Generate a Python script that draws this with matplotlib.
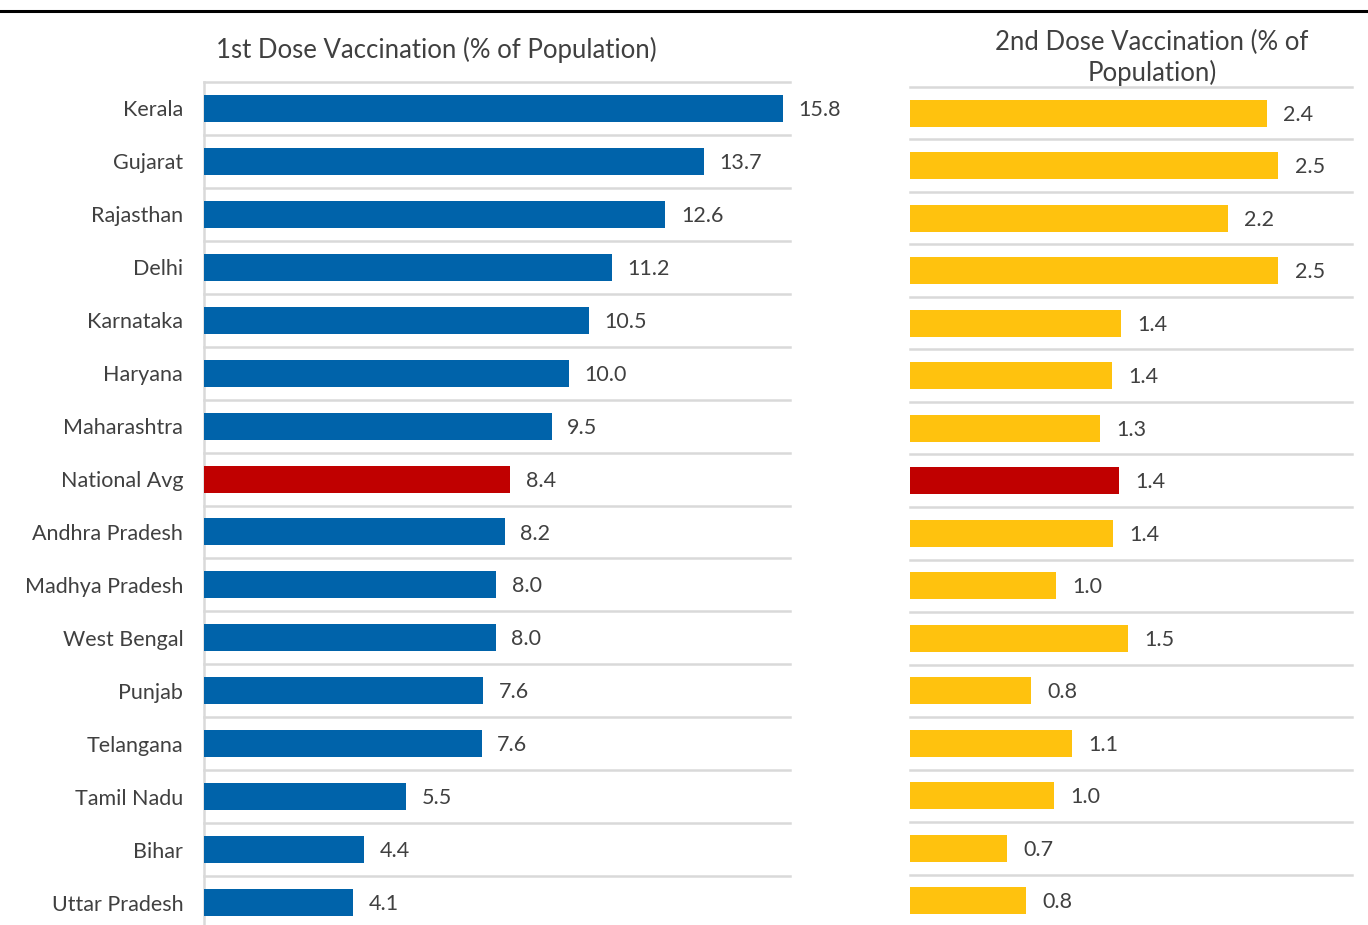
import numpy as np
import matplotlib
matplotlib.use("Agg")
from matplotlib import pyplot as plt

plt.rcParams['font.family'] = ['Lato', 'DejaVu Sans']

states = ['Kerala', 'Gujarat', 'Rajasthan', 'Delhi', 'Karnataka', 'Haryana',
          'Maharashtra', 'National Avg', 'Andhra Pradesh', 'Madhya Pradesh',
          'West Bengal', 'Punjab', 'Telangana', 'Tamil Nadu', 'Bihar',
          'Uttar Pradesh']
dose1 = [15.8, 13.66, 12.6, 11.15, 10.5, 9.97, 9.5, 8.36, 8.22, 7.98,
         7.96, 7.62, 7.58, 5.52, 4.38, 4.08]
dose2 = [2.42, 2.5, 2.16, 2.5, 1.43, 1.37, 1.29, 1.42, 1.38, 0.99,
         1.48, 0.82, 1.1, 0.98, 0.66, 0.79]

BLUE = '#0063AA'
YELLOW = '#FFC20E'
RED = '#C00000'
GRID = '#D9D9D9'
TXT = '#404040'

W, H = 1368, 925
fig = plt.figure(figsize=(W / 100, H / 100), dpi=100)


def panel(rect, vals, color, xmax, label_off, show_names):
    ax = fig.add_axes(rect)
    y = np.arange(len(states))
    cols = [RED if s == 'National Avg' else color for s in states]
    ax.barh(y, vals, height=0.51, color=cols, zorder=3)
    ax.set_xlim(0, xmax)
    ax.set_ylim(len(states) - 0.5, -0.5)
    for yi, v in zip(y, vals):
        ax.text(v + label_off, yi + 0.03, f'{v:.1f}', va='center', ha='left',
                fontsize=15.5, color=TXT)
    # separators between categories
    for b in np.arange(-0.5, len(states), 1.0):
        ax.axhline(b, color=GRID, lw=1.8, zorder=1, clip_on=False)
    for s in ax.spines.values():
        s.set_visible(False)
    ax.set_xticks([])
    if show_names:
        ax.set_yticks(y)
        ax.set_yticklabels(states, fontsize=15.5, color=TXT)
        ax.tick_params(axis='y', length=0, pad=15)
        ax.spines['left'].set_visible(True)
        ax.spines['left'].set_color(GRID)
        ax.spines['left'].set_linewidth(1.8)
    else:
        ax.set_yticks([])
    return ax


# left panel
top1, bot1 = 82, 929
panel([204 / W, 1 - bot1 / H, (790 - 204) / W, (bot1 - top1) / H],
      dose1, BLUE, 16.0, 0.42, True)

# right panel
top2, bot2 = 87, 927
panel([910 / W, 1 - bot2 / H, (1352 - 910) / W, (bot2 - top2) / H],
      dose2, YELLOW, 3.0, 0.11, False)

fig.text(436 / W, 1 - 50 / H, '1st Dose Vaccination (% of Population)',
         ha='center', va='center', fontsize=18.5, color=TXT)
fig.text(1152 / W, 1 - 58 / H, '2nd Dose Vaccination (% of\nPopulation)',
         ha='center', va='center', fontsize=18.5, color=TXT, linespacing=1.2)

# rule under the (cropped) heading
fig.add_artist(plt.Line2D([0, 1], [1 - 11 / H, 1 - 11 / H], color='black',
                          lw=2.2, transform=fig.transFigure))

fig.savefig('out.png', dpi=100)
